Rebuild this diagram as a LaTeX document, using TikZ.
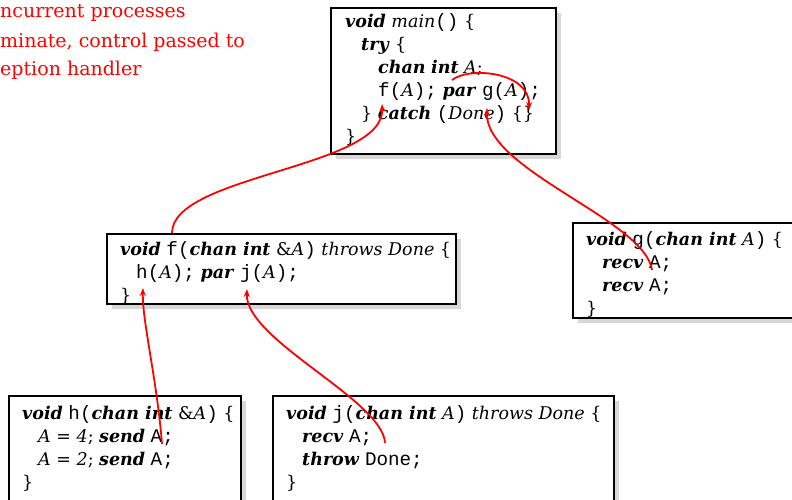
\documentclass[tikz,border=0pt]{standalone}
\usepackage{fontspec}
\setmainfont{DejaVu Serif}
\setmonofont[Scale=1.1]{Liberation Mono}
\usetikzlibrary{arrows.meta,shadows}
\newcommand\kw[1]{\textbf{\textit{#1}}}
\begin{document}
\begin{tikzpicture}[x=1pt,y=-1pt,
  box/.style={draw=black,line width=1.9pt,fill=white,inner sep=0pt,anchor=north west,
    drop shadow={shadow xshift=5pt,shadow yshift=-5pt,fill=gray!60}},
  ln/.style={anchor=base west,inner sep=0pt,font=\fontsize{17.5}{21}\selectfont},
  note/.style={anchor=base west,inner sep=0pt,text=red,font=\fontsize{19}{22}\selectfont},
  flow/.style={red,line width=1.8pt,-{Stealth[length=8pt,width=6pt]}}]
\useasboundingbox (0,0) rectangle (792,499);
% notes
\node[note] (n1) at (0,17) {ncurrent processes};
\node[note] (n2) at (0,47) {minate, control passed to};
\node[note] (n3) at (0,75) {eption handler};
% boxes
\node[box,minimum width=225pt,minimum height=146pt] (mainbox) at (330,7) {};
\node[box,minimum width=349pt,minimum height=70pt] (fbox) at (106,233) {};
\node[box,minimum width=240pt,minimum height=95pt] (gbox) at (572,222) {};
\node[box,minimum width=232pt,minimum height=130pt] (hbox) at (8,395) {};
\node[box,minimum width=341pt,minimum height=130pt] (jbox) at (272,395) {};
% main
\node[ln] (m1) at (345,27) {\kw{void} \textit{main}\texttt{()} \{};
\node[ln] (m2) at (361,50) {\kw{try} \{};
\node[ln] (m3) at (378,73) {\kw{chan} \kw{int} \textit{A};};
\node[ln] (m4) at (378,96) {\texttt{f(}\textit{A}\texttt{);} \kw{par} \texttt{g(}\textit{A}\texttt{);}};
\node[ln] (m5) at (361,119) {\} \kw{catch} \texttt{(}\textit{Done}\texttt{)} \{\}};
\node[ln] (m6) at (345,142) {\}};
% f
\node[ln] (f1) at (120,255) {\kw{void} \texttt{f(}\kw{chan int} \&\textit{A}\texttt{)} \textit{throws Done} \{};
\node[ln] (f2) at (136,278) {\texttt{h(}\textit{A}\texttt{);} \kw{par} \texttt{j(}\textit{A}\texttt{);}};
\node[ln] (f3) at (120,301) {\}};
% g
\node[ln] (g1) at (586,245) {\kw{void} \texttt{g(}\kw{chan int} \textit{A}\texttt{)} \{};
\node[ln] (g2) at (602,268) {\kw{recv} \texttt{A;}};
\node[ln] (g3) at (602,291) {\kw{recv} \texttt{A;}};
\node[ln] (g4) at (586,314) {\}};
% h
\node[ln] (h1) at (22,419) {\kw{void} \texttt{h(}\kw{chan int} \&\textit{A}\texttt{)} \{};
\node[ln] (h2) at (38,442) {\textit{A} = \textit{4}; \kw{send} \texttt{A;}};
\node[ln] (h3) at (38,465) {\textit{A} = \textit{2}; \kw{send} \texttt{A;}};
\node[ln] (h4) at (22,488) {\}};
% j
\node[ln] (j1) at (286,419) {\kw{void} \texttt{j(}\kw{chan int} \textit{A}\texttt{)} \textit{throws Done} \{};
\node[ln] (j2) at (302,442) {\kw{recv} \texttt{A;}};
\node[ln] (j3) at (302,465) {\kw{throw} \texttt{Done;}};
\node[ln] (j4) at (286,488) {\}};
% connector ends
\coordinate (a1s) at (172,233);
\coordinate (a1e) at (382,104);
\coordinate (a2s) at (652,270);
\coordinate (a2e) at (487,108);
\coordinate (a3s) at (452,80);
\coordinate (a3e) at (529,110);
\coordinate (a4s) at (162,444);
\coordinate (a4e) at (143,288);
\coordinate (a5s) at (385,443);
\coordinate (a5e) at (247,289);
\draw[flow] (a1s) .. controls (172,175) and (385,168) .. (a1e);
\draw[flow] (a2s) .. controls (645,220) and (485,170) .. (a2e);
\draw[flow] (a3s) .. controls (470,66) and (530,72) .. (a3e);
\draw[flow] (a4s) .. controls (157,380) and (142,320) .. (a4e);
\draw[flow] (a5s) .. controls (383,400) and (245,340) .. (a5e);
\end{tikzpicture}
\end{document}
